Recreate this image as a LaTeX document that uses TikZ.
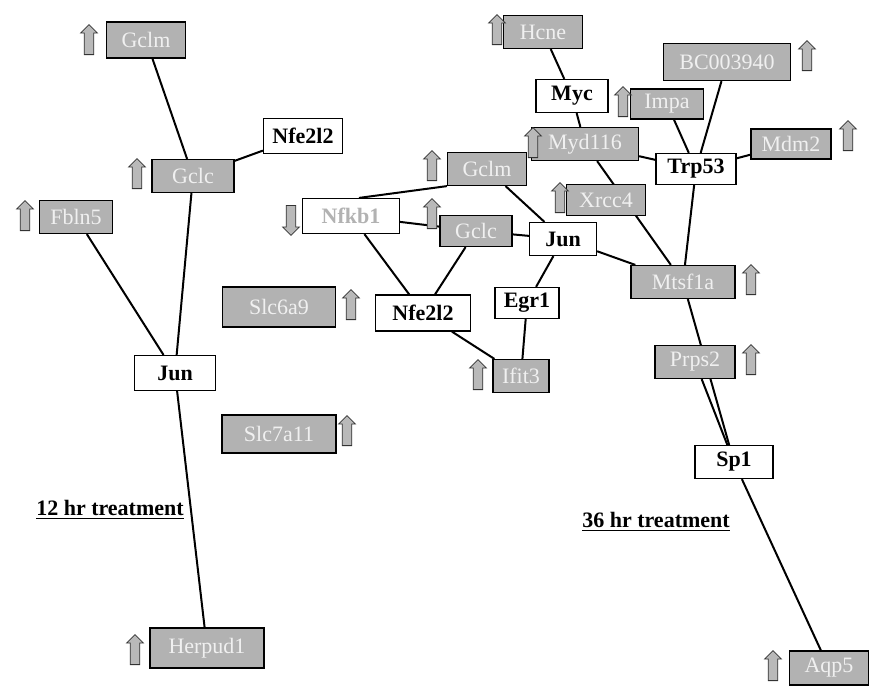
\documentclass[tikz,border=0pt]{standalone}
\usepackage{fontspec}
\setmainfont{Liberation Serif}
\usetikzlibrary{shapes.arrows,backgrounds}

\begin{document}
\begin{tikzpicture}[x=0.5pt,y=-0.5pt]
    \tikzstyle{gene}=[rectangle, draw, fill=white, line width=0.6pt, minimum height=16.5pt, inner sep=2pt, font=\fontsize{11}{13}\selectfont\bfseries]
    \tikzstyle{changed gene}=[gene, fill=gray!60, text=gray!12, font=\fontsize{11}{13}\selectfont]
    \tikzstyle{arrow mark}=[single arrow, draw=gray!40!black, fill=gray!55, line width=0.4pt, minimum width=8pt, minimum height=15pt, single arrow head extend=1.8pt, single arrow head indent=0pt, inner sep=2.2pt]
    \tikzstyle{up mark}=[arrow mark, rotate=90]
    \tikzstyle{down mark}=[arrow mark, rotate=-90]
    \tikzstyle{link}=[draw=black, line width=1pt]
    \tikzstyle{annot}=[font=\fontsize{11}{13}\selectfont\bfseries]

    \useasboundingbox (0,0) rectangle (877,693);

    % Draw the 12 hr network
    \node[changed gene, minimum width=39.5pt, minimum height=18pt] (gclmL) at (146,40) {Gclm};
    \node[changed gene, minimum width=41pt] (gclcL) at (193,176) {Gclc};
    \node[gene, minimum width=39.5pt, minimum height=17.5pt] (nfeL) at (303,136) {Nfe2l2};
    \node[changed gene, minimum width=36.5pt] (fblnL) at (76,217) {Fbln5};
    \node[gene, minimum width=40.5pt, minimum height=17.5pt] (junL) at (175,373) {Jun};
    \node[changed gene, minimum width=56.5pt, minimum height=20pt] (slcA) at (279,307) {Slc6a9};
    \node[changed gene, minimum width=57pt, minimum height=19pt] (slcB) at (279,434) {Slc7a11};
    \node[changed gene, minimum width=57pt, minimum height=20pt] (herpL) at (207,648) {Herpud1};

    % Draw the 36 hr network, middle part
    \node[gene, minimum width=48.5pt, minimum height=17.5pt, text=gray!60] (nfkbM) at (351,216) {Nfkb1};
    \node[changed gene, minimum width=39.5pt] (gclmM) at (487,169) {Gclm};
    \node[changed gene, minimum width=36pt, minimum height=15.5pt] (gclcM) at (476,231) {Gclc};
    \node[gene, minimum width=33.5pt] (junM) at (563,239) {Jun};
    \node[gene, minimum width=47.5pt, minimum height=18pt] (nfeM) at (423,313) {Nfe2l2};
    \node[gene, minimum width=32pt, minimum height=15.5pt] (egrM) at (527,303) {Egr1};
    \node[changed gene, minimum width=28pt] (ifitM) at (521,376) {Ifit3};

    % Draw the 36 hr network, right part
    \node[changed gene, minimum width=39.5pt] (hcneR) at (543,32) {Hcne};
    \node[changed gene, minimum width=63.5pt, minimum height=18.5pt] (bcR) at (727,62) {BC003940};
    \node[gene, minimum width=36pt] (mycR) at (572,96) {Myc};
    \node[changed gene, minimum width=36.5pt, minimum height=15pt] (impaR) at (667,104) {Impa};
    \node[changed gene, minimum width=53.5pt] (mydR) at (585,144) {Myd116};
    \node[gene, minimum width=40pt, minimum height=15.5pt] (trpR) at (696,169) {Trp53};
    \node[changed gene, minimum width=40pt, minimum height=15pt] (mdmR) at (791,144) {Mdm2};
    \node[changed gene, minimum width=39.5pt, minimum height=15.5pt] (xrccR) at (606,200) {Xrcc4};
    \node[changed gene, minimum width=52pt] (mtsR) at (683,282) {Mtsf1a};
    \node[changed gene, minimum width=40pt] (prpsR) at (695,362) {Prps2};
    \node[gene, minimum width=39pt] (spR) at (734,462) {Sp1};
    \node[changed gene, minimum width=39.5pt, minimum height=17pt] (aqpR) at (829,668) {Aqp5};

    % Mark the up-regulated genes
    \foreach \name / \x / \y in {gclmL/89/42, gclcL/137/176, fblnL/25/218, slcA/351/307,
        slcB/347/433, herpL/135/652, gclmM/432/168, gclcM/432/216, ifitM/478/377,
        hcneR/497/32, bcR/807/58, impaR/623/104, mydR/533/145, mdmR/848/138,
        xrccR/560/200, mtsR/751/282, prpsR/751/362, aqpR/773/668}
        \node[up mark] (U-\name) at (\x,\y) {};

    % Mark the down-regulated gene
    \node[down mark] (D-nfkbM) at (291,218) {};

    % Connect the genes
    \begin{pgfonlayer}{background}
    \foreach \source / \dest in {gclmL/gclcL, gclcL/nfeL, gclcL/junL, fblnL/junL, junL/herpL,
        gclmM/junM, nfkbM/gclcM, gclcM/junM, nfkbM/nfeM, gclcM/nfeM, nfeM/ifitM,
        junM/egrM, egrM/ifitM, hcneR/mycR, mycR/mydR, mydR/mtsR, mydR/trpR,
        impaR/trpR, bcR/trpR, mdmR/trpR, trpR/mtsR, junM/mtsR, mtsR/spR,
        prpsR/spR, spR/aqpR}
        \path[link] (\source) -- (\dest);
    \path[link] ([xshift=4pt]nfkbM.north) -- (gclmM.south west);
    \end{pgfonlayer}

    % Annotate the two time points
    \node[annot] (t12) at (110,510) {\underline{12 hr treatment}};
    \node[annot] (t36) at (656,522) {\underline{36 hr treatment}};
\end{tikzpicture}
\end{document}
